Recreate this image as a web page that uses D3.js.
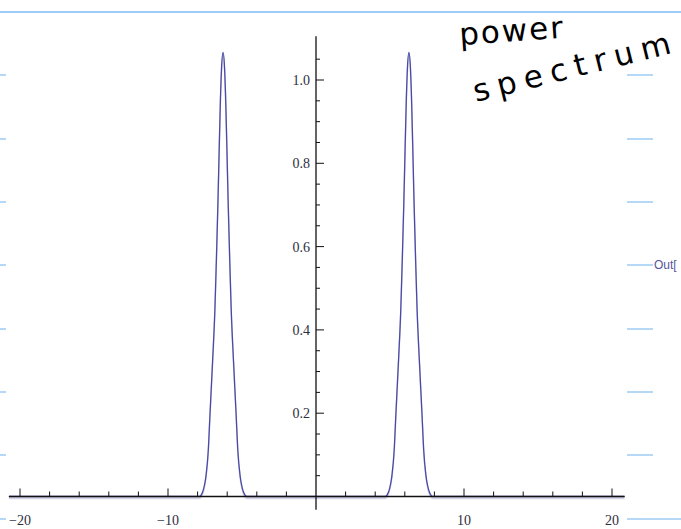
<!DOCTYPE html>
<html>
<head>
<meta charset="utf-8">
<script src="https://cdn.jsdelivr.net/npm/d3@7"></script>
<style>
  body { margin: 0; background: #fff; }
  svg { display: block; }
</style>
</head>
<body>
<svg id="chart"></svg>
<script>
// values: two peaks near +-2pi
var powerX = [-20.75,
  -7.88, -7.73, -7.58, -7.43, -7.28, -7.16, -6.98, -6.83, -6.73, -6.63, -6.55, -6.46, -6.38,
  -6.28,
  -6.18, -6.10, -6.01, -5.93, -5.83, -5.73, -5.58, -5.40, -5.28, -5.13, -4.98, -4.83, -4.68,
  4.68, 4.83, 4.98, 5.13, 5.28, 5.40, 5.58, 5.73, 5.83, 5.93, 6.01, 6.10, 6.18,
  6.28,
  6.38, 6.46, 6.55, 6.63, 6.73, 6.83, 6.98, 7.16, 7.28, 7.43, 7.58, 7.73, 7.88,
  20.85];
var powerY = [0,
  0, 0.005, 0.02, 0.05, 0.11, 0.2, 0.33, 0.45, 0.57, 0.70, 0.82, 0.95, 1.03,
  1.066,
  1.03, 0.95, 0.82, 0.70, 0.57, 0.45, 0.33, 0.2, 0.11, 0.05, 0.02, 0.005, 0,
  0, 0.005, 0.02, 0.05, 0.11, 0.2, 0.33, 0.45, 0.57, 0.70, 0.82, 0.95, 1.03,
  1.066,
  1.03, 0.95, 0.82, 0.70, 0.57, 0.45, 0.33, 0.2, 0.11, 0.05, 0.02, 0.005, 0,
  0];

var xMajor = [-20, -10, 10, 20];
var xMajorLabels = ["\u221220", "\u221210", "10", "20"];
var xMinor = d3.range(-20, 21, 2);
var yMajor = [0.2, 0.4, 0.6, 0.8, 1.0];
var yMajorLabels = ["0.2", "0.4", "0.6", "0.8", "1.0"];
var yMinor = d3.range(0.05, 1.06, 0.05);

var width = 681,
    height = 529;

var svg = d3.select("#chart")
    .attr("width", width)
    .attr("height", height);

// set the ranges
var x = d3.scaleLinear().domain([-20, 20]).range([20, 612]);
var y = d3.scaleLinear().domain([0, 1]).range([496.5, 80]);

// notebook lines (light blue)
var blue = "#9ccbf5";
svg.append("line")
    .attr("x1", 0).attr("x2", width)
    .attr("y1", 12).attr("y2", 12)
    .attr("stroke", blue).attr("stroke-width", 2);

var dashY = [75, 139, 202, 265, 329, 392, 455, 519];
dashY.forEach(function(d){
    svg.append("line")
        .attr("x1", 0).attr("x2", 6).attr("y1", d).attr("y2", d)
        .attr("stroke", blue).attr("stroke-width", 1.5);
    svg.append("line")
        .attr("x1", 627).attr("x2", d == 519 ? width : 653).attr("y1", d).attr("y2", d)
        .attr("stroke", blue).attr("stroke-width", 1.5);
});

svg.append("text")
    .attr("x", 654).attr("y", 269)
    .attr("font-family", "Liberation Sans, Arial, sans-serif")
    .attr("font-size", 12)
    .attr("fill", "#55559a")
    .text("Out[");

// the curve
var line = d3.line()
    .x(function(d){ return x(d[0]); })
    .y(function(d){ return y(d[1]); })
    .curve(d3.curveMonotoneX);

var pts = powerX.map(function(d, i){ return [d, powerY[i]]; });

svg.append("path")
    .datum(pts)
    .attr("d", line)
    .attr("transform", "translate(0,2)")
    .attr("fill", "none")
    .attr("stroke", "#d4d4e6")
    .attr("stroke-width", 1.5);

svg.append("path")
    .datum(pts)
    .attr("d", line)
    .attr("fill", "none")
    .attr("stroke", "#4a4aa6")
    .attr("stroke-width", 1.3);

// axes
var axisColor = "#111";
svg.append("line")
    .attr("x1", x(-20.75)).attr("x2", x(20.85))
    .attr("y1", y(0)).attr("y2", y(0))
    .attr("stroke", axisColor).attr("stroke-width", 1.3);
svg.append("line")
    .attr("x1", x(0)).attr("x2", x(0))
    .attr("y1", y(1.105)).attr("y2", y(-0.032))
    .attr("stroke", axisColor).attr("stroke-width", 1.3);

svg.selectAll(".xminor")
    .data(xMinor.filter(function(d){ return d != 0 && d % 10 != 0; }))
    .enter().append("line")
    .attr("x1", function(d){ return x(d); }).attr("x2", function(d){ return x(d); })
    .attr("y1", y(0)).attr("y2", y(0) - 5)
    .attr("stroke", axisColor).attr("stroke-width", 1);

svg.selectAll(".xmajor")
    .data(xMajor)
    .enter().append("line")
    .attr("x1", function(d){ return x(d); }).attr("x2", function(d){ return x(d); })
    .attr("y1", y(0)).attr("y2", y(0) - 8)
    .attr("stroke", axisColor).attr("stroke-width", 1);

svg.selectAll(".xlabel")
    .data(xMajor)
    .enter().append("text")
    .attr("x", function(d){ return x(d); })
    .attr("y", 525)
    .attr("text-anchor", "middle")
    .attr("font-family", "Liberation Serif, Times New Roman, serif")
    .attr("font-size", 14)
    .attr("fill", "#2e2e3e")
    .text(function(d, i){ return xMajorLabels[i]; });

svg.selectAll(".yminor")
    .data(yMinor.filter(function(d){ return Math.abs(d * 5 - Math.round(d * 5)) > 0.01; }))
    .enter().append("line")
    .attr("x1", x(0)).attr("x2", x(0) + 4)
    .attr("y1", function(d){ return y(d); }).attr("y2", function(d){ return y(d); })
    .attr("stroke", axisColor).attr("stroke-width", 1);

svg.selectAll(".ymajor")
    .data(yMajor)
    .enter().append("line")
    .attr("x1", x(0)).attr("x2", x(0) + 8)
    .attr("y1", function(d){ return y(d); }).attr("y2", function(d){ return y(d); })
    .attr("stroke", axisColor).attr("stroke-width", 1);

svg.selectAll(".ylabel")
    .data(yMajor)
    .enter().append("text")
    .attr("x", x(0) - 6)
    .attr("y", function(d){ return y(d) + 5; })
    .attr("text-anchor", "end")
    .attr("font-family", "Liberation Serif, Times New Roman, serif")
    .attr("font-size", 14)
    .attr("fill", "#2e2e3e")
    .text(function(d, i){ return yMajorLabels[i]; });

// handwritten note
svg.append("text")
    .attr("transform", "translate(460,45) rotate(-4)")
    .attr("font-family", "DejaVu Sans, sans-serif")
    .attr("font-size", 31)
    .attr("letter-spacing", 2)
    .attr("fill", "#000")
    .text("power");

svg.append("text")
    .attr("transform", "translate(476,102) rotate(-14)")
    .attr("font-family", "DejaVu Sans, sans-serif")
    .attr("font-size", 31)
    .attr("letter-spacing", 8)
    .attr("fill", "#000")
    .text("spectrum");
</script>
</body>
</html>
